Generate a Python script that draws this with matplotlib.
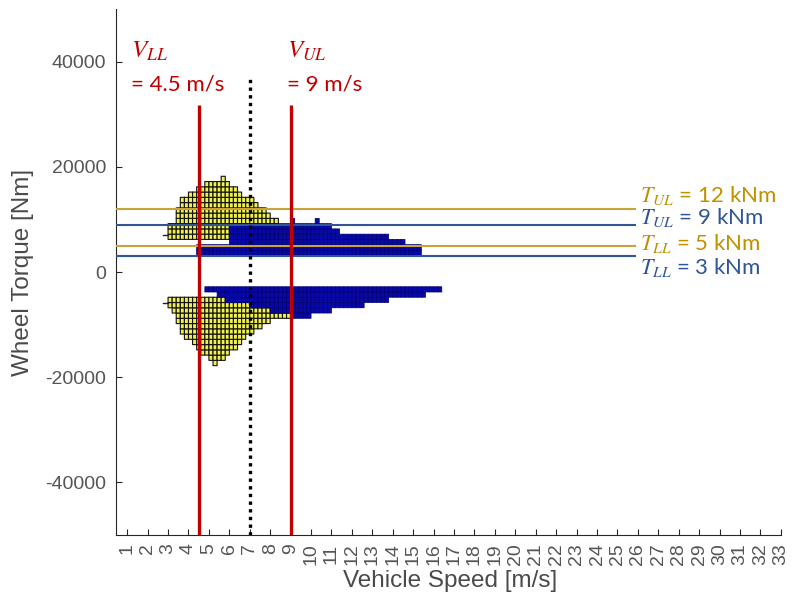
import numpy as np
import matplotlib

matplotlib.use("Agg")
import matplotlib.pyplot as plt
from matplotlib.colors import ListedColormap

plt.rcParams["font.family"] = ["Liberation Sans", "DejaVu Sans"]
plt.rcParams["mathtext.fontset"] = "stix"
plt.rcParams["axes.unicode_minus"] = False

# speed / torque operating-point histograms, as runs of cells:
# (speed from, speed to, torque low, torque high)
yellow_upper = [
    (3.0, 3.4, 6200, 9200), (3.4, 3.6, 6200, 12200), (3.6, 4.0, 6200, 14200),
    (4.0, 4.4, 6200, 15200), (4.4, 4.8, 6200, 16200), (4.8, 5.6, 6200, 17200),
    (5.6, 5.8, 6200, 18200), (5.8, 6.0, 6200, 17200), (6.0, 6.4, 6200, 16200),
    (6.4, 6.6, 6200, 15200), (6.6, 7.2, 6200, 14200), (7.2, 7.4, 6200, 13200),
    (7.4, 7.8, 6200, 12200), (7.8, 8.0, 6200, 11200), (8.0, 8.4, 6200, 10200),
]
blue_upper = [
    (4.4, 6.0, 3200, 5200), (6.0, 9.0, 3200, 9200), (9.0, 9.2, 3200, 10200),
    (9.2, 10.2, 3200, 9200), (10.2, 10.4, 3200, 10200), (10.4, 11.0, 3200, 9200),
    (11.0, 11.4, 3200, 8200), (11.4, 13.8, 3200, 7200), (13.8, 14.6, 3200, 6200),
    (14.6, 15.4, 3200, 5200),
]
yellow_lower = [
    (3.0, 3.2, -6800, -4800), (3.2, 3.4, -7800, -4800), (3.4, 3.6, -9800, -4800),
    (3.6, 3.8, -11800, -4800), (3.8, 4.2, -12800, -4800), (4.2, 4.4, -13800, -4800),
    (4.4, 4.6, -14800, -4800), (4.6, 5.0, -15800, -4800), (5.0, 5.2, -16800, -4800),
    (5.2, 5.4, -17800, -4800), (5.4, 5.8, -16800, -4800), (5.8, 6.0, -15800, -4800),
    (6.0, 6.4, -14800, -4800), (6.4, 6.6, -13800, -4800), (6.6, 6.8, -12800, -4800),
    (6.8, 7.2, -11800, -4800), (7.2, 7.6, -10800, -4800), (7.6, 8.0, -9800, -4800),
    (8.0, 9.0, -8800, -4800),
]
blue_lower = [
    (4.8, 5.0, -3800, -2800), (5.0, 5.4, -3800, -2800), (5.4, 5.8, -4800, -2800),
    (5.8, 7.0, -5800, -2800), (7.0, 8.0, -6800, -2800), (8.0, 9.0, -7800, -2800),
    (9.0, 10.0, -8800, -2800), (10.0, 11.0, -7800, -2800), (11.0, 12.6, -6800, -2800),
    (12.6, 13.8, -5800, -2800), (13.8, 15.6, -4800, -2800), (15.6, 16.4, -3800, -2800),
]
# single-bin slivers at the left edge of the yellow blobs: (from, to, torque)
slivers = [(2.75, 3.0, 7000), (2.75, 3.0, -5900)]

# torque limits (kNm) and speed limits (m/s)
torque_limits = [12, 9, 5, 3]
torque_names = ["UL", "UL", "LL", "LL"]
torque_label_y = [14600, 10400, 5500, 800]
speed_limits = [4.5, 9]
speed_names = ["LL", "UL"]
speed_label_x = [1.2, 8.8]
split_speed = 7

GOLD_LINE, GOLD_TEXT = "#c9a23a", "#bf9000"
BLUE_LINE, BLUE_TEXT = "#2f5597", "#2f5597"
RED = "#c00000"
torque_line_colours = [GOLD_LINE, BLUE_LINE, GOLD_LINE, BLUE_LINE]
torque_text_colours = [GOLD_TEXT, BLUE_TEXT, GOLD_TEXT, BLUE_TEXT]
NOTE_FONT = ["Lato", "DejaVu Sans"]

x_edges = np.round(np.arange(2.4, 16.81, 0.2), 2)
y_edges = np.arange(-18800, 19201, 1000)
xc = (x_edges[:-1] + x_edges[1:]) / 2
yc = (y_edges[:-1] + y_edges[1:]) / 2


def cells(runs):
    mask = np.zeros((len(yc), len(xc)), dtype=bool)
    for x0, x1, lo, hi in runs:
        cols = (xc > x0) & (xc < x1)
        rows = (yc > lo) & (yc < hi)
        mask[np.ix_(rows, cols)] = True
    return np.ma.masked_where(~mask, np.ones(mask.shape))


fig = plt.figure(figsize=(7.96, 6.03), dpi=100)
ax = fig.add_axes([0.1457, 0.1128, 0.8353, 0.8722])

# pcolor (not pcolormesh) drops masked cells, edges included
for runs, face, edge, lw in [
    (yellow_upper, "#f0f050", "#111111", 0.8),
    (yellow_lower, "#f0f050", "#111111", 0.8),
    (blue_upper, "#0808a8", "#000070", 0.5),
    (blue_lower, "#0808a8", "#000070", 0.5),
]:
    ax.pcolor(x_edges, y_edges, cells(runs), cmap=ListedColormap([face]),
              edgecolors=edge, linewidth=lw, zorder=2)
for x0, x1, y in slivers:
    ax.plot([x0, x1], [y, y], color="#222222", linewidth=1.0, zorder=2)

xmin, line_end = 0.45, 25.9
for val, name, ly, lc, tc in zip(torque_limits, torque_names, torque_label_y,
                                 torque_line_colours, torque_text_colours):
    ax.hlines(val * 1000, xmin, line_end, color=lc, linewidth=1.5, zorder=3)
    ax.text(26.1, ly, f"$T_{{{name}}}$ = {val} kNm", color=tc, fontsize=16,
            family=NOTE_FONT, va="center", ha="left", clip_on=False)

for val, name, lx in zip(speed_limits, speed_names, speed_label_x):
    ax.vlines(val, -50000, 31700, color=RED, linewidth=2.4, zorder=4)
    ax.text(lx, 42000, f"$V_{{{name}}}$", color=RED, fontsize=18,
            va="center", ha="left")
    ax.text(lx, 35700, f"= {val:g} m/s", color=RED, fontsize=16,
            family=NOTE_FONT, va="center", ha="left")
ax.vlines(split_speed, -50000, 37400, color="black", linewidth=2.4,
          linestyles=(0, (1, 1.3)), zorder=4)

ax.set_xlim(xmin, 33)
ax.set_ylim(-50000, 50000)
ax.set_xticks(range(1, 34))
ax.set_xticklabels([str(i) for i in range(1, 34)], rotation=90)
ax.set_yticks([-40000, -20000, 0, 20000, 40000])
ax.tick_params(direction="in", length=4, colors="#262626", labelcolor="#555555",
               labelsize=14)
ax.tick_params(axis="y", pad=7)
ax.tick_params(axis="x", pad=6)
for side in ("top", "right"):
    ax.spines[side].set_visible(False)
for side in ("left", "bottom"):
    ax.spines[side].set_color("#262626")
ax.set_xlabel("Vehicle Speed [m/s]", fontsize=17.5, color="#4a4a4a")
ax.set_ylabel("Wheel Torque [Nm]", fontsize=17.5, color="#4a4a4a")
ax.xaxis.set_label_coords(0.502, -0.066)
ax.yaxis.set_label_coords(-0.123, 0.5)

fig.savefig("out.png", dpi=100, facecolor="white")
